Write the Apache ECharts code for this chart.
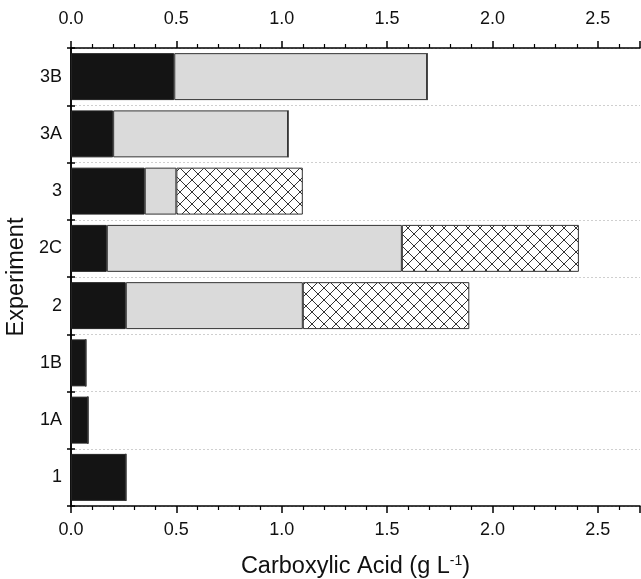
<!DOCTYPE html>
<html>
<head>
<meta charset="utf-8">
<script src="https://cdn.jsdelivr.net/npm/echarts@6/dist/echarts.min.js"></script>
<style>html,body{margin:0;padding:0;background:#fff;}#c{width:641px;height:579px;}</style>
</head>
<body>
<div id="c"></div>
<script>
var categories = ['1', '1A', '1B', '2', '2C', '3', '3A', '3B'];
var blackPart = [0.26, 0.08, 0.07, 0.26, 0.17, 0.35, 0.20, 0.49];
var grayPart = [0, 0, 0, 0.84, 1.40, 0.15, 0.83, 1.20];
var hatchPart = [0, 0, 0, 0.79, 0.84, 0.60, 0, 0];

function makeHatch() {
  var s = 12;
  var cv = document.createElement('canvas');
  cv.width = s; cv.height = s;
  var ctx = cv.getContext('2d');
  ctx.fillStyle = '#ffffff';
  ctx.fillRect(0, 0, s, s);
  ctx.strokeStyle = '#333333';
  ctx.lineWidth = 1;
  ctx.beginPath();
  ctx.moveTo(0, 0); ctx.lineTo(s, s);
  ctx.moveTo(s, 0); ctx.lineTo(0, s);
  ctx.stroke();
  return cv;
}

var font = 'Liberation Sans, Arial, sans-serif';
var xBase = {
  type: 'value', min: 0, max: 2.7, interval: 0.5,
  axisLine: { show: true, lineStyle: { color: '#000', width: 1.5 } },
  axisTick: { show: true, length: 7, lineStyle: { color: '#000', width: 1.5 } },
  minorTick: { show: true, splitNumber: 5, length: 4, lineStyle: { color: '#000', width: 1.2 } },
  splitLine: { show: false },
  axisLabel: { showMaxLabel: false, color: '#111', fontSize: 18, fontFamily: font,
    formatter: function (v) { return v.toFixed(1); } }
};

var chart = echarts.init(document.getElementById('c'));
chart.setOption({
  animation: false,
  backgroundColor: '#fff',
  grid: { left: 71, right: 1, top: 48, bottom: 73, show: false, containLabel: false, outerBoundsMode: 'none' },
  xAxis: [
    Object.assign({}, xBase, {
      position: 'bottom',
      axisLabel: Object.assign({}, xBase.axisLabel, { margin: 15 }),
      name: 'Carboxylic Acid (g L{sup|-1})',
      nameLocation: 'middle', nameGap: 48,
      nameTextStyle: { color: '#111', fontSize: 23.5, fontFamily: font,
        rich: { sup: { fontSize: 14, verticalAlign: 'top', padding: [0, 0, 12, 0], color: '#111', fontFamily: font } } }
    }),
    Object.assign({}, xBase, {
      position: 'top',
      axisLabel: Object.assign({}, xBase.axisLabel, { margin: 20 })
    })
  ],
  yAxis: [
    {
      type: 'category', data: categories, position: 'left',
      axisLine: { show: true, lineStyle: { color: '#000', width: 1.5 } },
      axisTick: { show: true, length: 4, lineStyle: { color: '#000', width: 1.5 } },
      splitLine: { show: true, lineStyle: { color: '#cfcfcf', type: [2, 2], width: 1 } },
      axisLabel: { color: '#111', fontSize: 18, fontFamily: font, margin: 9 },
      name: 'Experiment', nameLocation: 'middle', nameGap: 39,
      nameTextStyle: { color: '#111', fontSize: 23.5, fontFamily: font }
    },
    {
      type: 'category', data: categories, position: 'right',
      axisLine: { show: true, lineStyle: { color: '#000', width: 1.5 } },
      axisTick: { show: false }, axisLabel: { show: false }, splitLine: { show: false }
    },
    {
      type: 'category', data: categories, position: 'left',
      axisLine: { show: false },
      axisTick: { show: true, inside: true, length: 4, lineStyle: { color: '#000', width: 1.5 } },
      axisLabel: { show: false }, splitLine: { show: false }
    }
  ],
  series: [
    { type: 'bar', stack: 'a', data: blackPart, barWidth: '82%',
      itemStyle: { color: '#141414', borderColor: '#222', borderWidth: 1 } },
    { type: 'bar', stack: 'a', data: grayPart, barWidth: '82%',
      itemStyle: { color: '#dadada', borderColor: '#333', borderWidth: 1 } },
    { type: 'bar', stack: 'a', data: hatchPart, barWidth: '82%',
      itemStyle: { color: { image: makeHatch(), repeat: 'repeat' }, borderColor: '#333', borderWidth: 1 } }
  ]
});
</script>
</body>
</html>
